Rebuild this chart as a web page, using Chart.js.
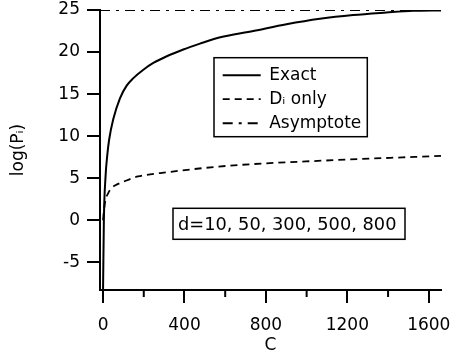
<!DOCTYPE html>
<html><head><meta charset="utf-8">
<style>html,body{margin:0;padding:0;background:#fff;}</style>
<script src="https://cdn.jsdelivr.net/npm/chart.js@4.4.1/dist/chart.umd.min.js"></script>
</head><body>
<canvas id="c" width="452" height="358"></canvas>
<script>
// ---- data ----
const exactC = [0, 4, 12, 21, 30, 50, 83, 116, 149, 198, 247, 313, 394, 476, 566, 738, 901, 1065, 1228, 1392, 1522, 1660];
const exactV = [-8.3, 0, 5.1, 7.8, 9.6, 12, 14.5, 16, 16.9, 17.9, 18.7, 19.5, 20.3, 21.0, 21.7, 22.5, 23.3, 23.95, 24.4, 24.7, 24.9, 24.95];
const diC = [0, 5, 12, 25, 41, 77, 103, 139, 172, 313, 604, 1094, 1660];
const diV = [0, 1.3, 2.4, 3.2, 3.8, 4.35, 4.6, 4.95, 5.2, 5.7, 6.45, 7.1, 7.65];
const asymC = [-15, 1660];
const asymV = [25, 25];
const xTicksMajor = [0, 400, 800, 1200, 1600];
const xTicksMinor = [200, 600, 1000, 1400];
const yTicks = [-5, 0, 5, 10, 15, 20, 25];
const seriesNames = ['Exact', 'D\u1D62 only', 'Asymptote'];
const xTitle = 'C';
const yTitle = 'log(P\u1D62)';
const noteText = 'd=10, 50, 300, 500, 800';

const pts = (xs, ys) => xs.map((x, i) => ({x: x, y: ys[i]}));

Chart.defaults.font.family = '"DejaVu Sans", "Liberation Sans", sans-serif';
Chart.defaults.font.size = 17;
Chart.defaults.color = '#000';

const extras = {
  id: 'extras',
  afterLayout(chart) {
    const a = chart.chartArea, lg = chart.legend;
    if (!lg) return;
    lg.left = a.left + 115.7; lg.top = a.top + 49.7;
    lg.width = 150; lg.height = 120;
    lg.right = lg.left + 150; lg.bottom = lg.top + 120;
  },
  afterDraw(chart) {
    const ctx = chart.ctx, a = chart.chartArea, xs = chart.scales.x;
    ctx.save();
    ctx.strokeStyle = '#000';
    ctx.lineWidth = 1.5;
    ctx.setLineDash([]);
    // legend frame
    ctx.strokeRect(a.left + 114, a.top + 47.7, 153.3, 79);
    // note box
    ctx.strokeRect(a.left + 73, a.top + 198.3, 232, 31);
    ctx.fillStyle = '#000';
    ctx.font = '17.8px "DejaVu Sans", "Liberation Sans", sans-serif';
    ctx.textAlign = 'left';
    ctx.textBaseline = 'middle';
    ctx.fillText(noteText, a.left + 78, a.top + 215);
    // minor x ticks
    ctx.lineWidth = 2;
    xTicksMinor.forEach(v => {
      const px = xs.getPixelForValue(v);
      ctx.beginPath();
      ctx.moveTo(px, a.bottom);
      ctx.lineTo(px, a.bottom + 7);
      ctx.stroke();
    });
    ctx.restore();
  }
};

new Chart(document.getElementById('c'), {
  type: 'line',
  data: {
    datasets: [
      {label: seriesNames[0], data: pts(exactC, exactV), borderColor: '#000', borderWidth: 2, pointRadius: 0, cubicInterpolationMode: 'monotone', fill: false},
      {label: seriesNames[1], data: pts(diC, diV), borderColor: '#000', borderWidth: 1.8, borderDash: [7, 5], pointRadius: 0, cubicInterpolationMode: 'monotone', fill: false},
      {label: seriesNames[2], data: pts(asymC, asymV), borderColor: '#000', borderWidth: 2, borderDash: [10, 6, 3, 6], pointRadius: 0, fill: false}
    ]
  },
  options: {
    responsive: false,
    animation: false,
    events: [],
    layout: {padding: {left: 0, right: 11, top: 10, bottom: 0}},
    plugins: {
      tooltip: {enabled: false},
      legend: {
        position: 'chartArea',
        align: 'start',
        labels: {
          usePointStyle: true,
          pointStyle: 'line',
          pointStyleWidth: 38,
          padding: 7,
          color: '#000',
          font: {size: 17},
          generateLabels(chart) {
            return chart.data.datasets.map((ds, i) => ({
              text: ds.label,
              fillStyle: '#000',
              strokeStyle: '#000',
              fontColor: '#000',
              lineWidth: ds.borderWidth,
              lineDash: ds.borderDash || [],
              pointStyle: 'line',
              hidden: false,
              datasetIndex: i
            }));
          }
        }
      }
    },
    scales: {
      x: {
        type: 'linear',
        min: -15, max: 1660,
        afterBuildTicks(s) { s.ticks = xTicksMajor.map(v => ({value: v})); },
        afterFit(s) { s.height = 68; s.paddingLeft = 0; s.paddingRight = 0; },
        ticks: {padding: 12, color: '#000', maxRotation: 0, autoSkip: false, font: {size: 17}, callback: v => String(v)},
        grid: {drawOnChartArea: false, drawTicks: true, tickLength: 13, tickWidth: 2, tickColor: '#000', color: '#000', lineWidth: 2},
        border: {display: true, color: '#000', width: 2},
        title: {display: true, text: xTitle, color: '#000', font: {size: 17}, padding: {top: 0, bottom: 2}}
      },
      y: {
        type: 'linear',
        min: -8.3, max: 25,
        afterBuildTicks(s) { s.ticks = yTicks.map(v => ({value: v})); },
        afterFit(s) { s.width = 100; s.paddingTop = 0; s.paddingBottom = 0; },
        ticks: {padding: 7, color: '#000', autoSkip: false, font: {size: 17}, callback: v => String(v)},
        grid: {drawOnChartArea: false, drawTicks: true, tickLength: 13, tickWidth: 2, tickColor: '#000', color: '#000', lineWidth: 2},
        border: {display: true, color: '#000', width: 2},
        title: {display: true, text: yTitle, color: '#000', font: {size: 17}, padding: {top: 8, bottom: 0}}
      }
    }
  },
  plugins: [extras]
});
</script>
</body></html>
